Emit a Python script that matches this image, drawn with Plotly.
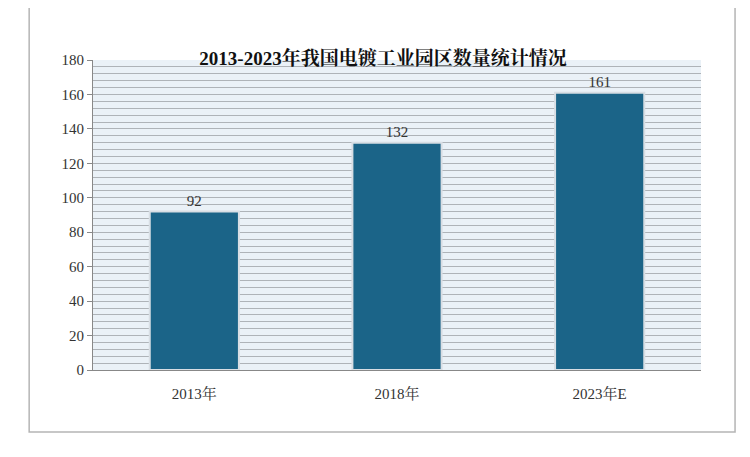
import plotly.graph_objects as go

years = ["2013年", "2018年", "2023年E"]
parks = [92, 132, 161]

fig = go.Figure()
fig.add_trace(go.Bar(x=years, y=parks, width=0.44, marker=dict(color="#1B6488", line=dict(color="#D8DEE4", width=2)),
                     text=parks, textposition="outside", textfont=dict(size=15, color="#333")))

font = "Liberation Serif, Noto Serif CJK SC, Noto Sans CJK SC, serif"
fig.update_layout(
    width=750, height=457,
    margin=dict(l=85, r=57, t=52, b=95),
    paper_bgcolor="white", plot_bgcolor="#EAF1F7",
    font=dict(family=font, size=15, color="#333"),
    title=dict(text="<b>2013-2023年我国电镀工业园区数量统计情况</b>", x=0.5, y=0.905, xanchor="center",
               font=dict(size=19, color="#111")),
    showlegend=False,
    bargap=0.56,
    shapes=[dict(type="rect", xref="paper", yref="paper", x0=-0.105, x1=1.056, y0=-0.2, y1=1.17,
                 line=dict(color="#B5B5B5", width=1.5), layer="below")],
)
fig.update_yaxes(range=[0, 180], dtick=20, showgrid=True, gridcolor="#AEB3B8", gridwidth=1.2,
                 minor=dict(dtick=4, showgrid=True, gridcolor="#AEB3B8", gridwidth=1.2),
                 showline=True, linecolor="#888", ticks="outside", ticklen=5, tickcolor="#888", zeroline=False)
fig.update_xaxes(showline=True, linecolor="#888", ticks="outside", ticklen=10, tickcolor="rgba(0,0,0,0)",
                 tickfont=dict(size=15))

fig.write_html("out.html")
